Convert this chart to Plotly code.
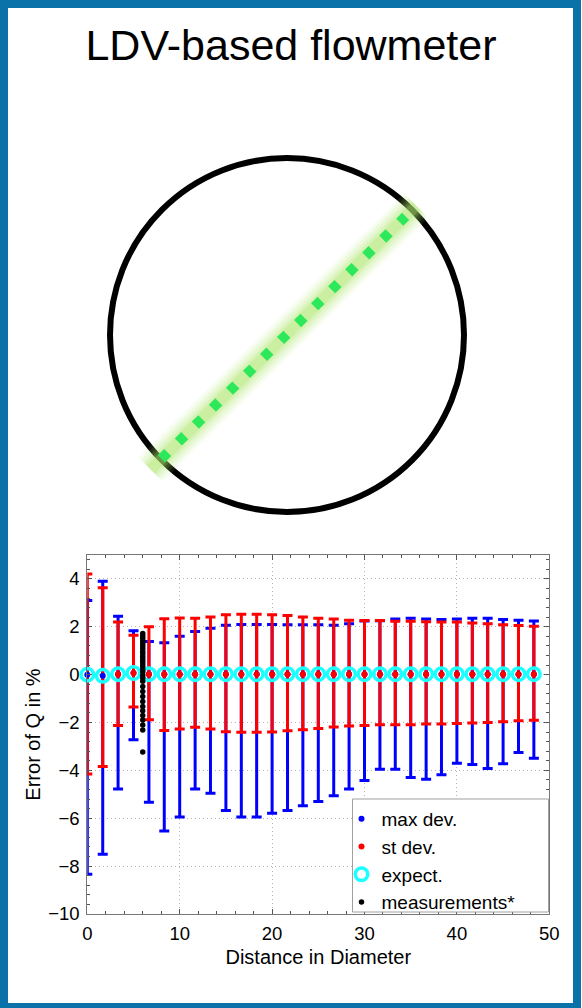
import plotly.graph_objects as go

# ---------------- data ----------------
distance = [0.0, 1.67, 3.33, 5.0, 6.67, 8.33, 10.0, 11.67, 13.33, 15.0,
            16.67, 18.33, 20.0, 21.67, 23.33, 25.0, 26.67, 28.33, 30.0, 31.67,
            33.33, 35.0, 36.67, 38.33, 40.0, 41.67, 43.33, 45.0, 46.67, 48.33]

expected = [0.0, -0.05, 0.02, 0.07, 0.02, 0.02, 0.02, 0.02, 0.02, 0.02,
            0.02, 0.02, 0.02, 0.02, 0.02, 0.02, 0.02, 0.02, 0.02, 0.02,
            0.02, 0.02, 0.02, 0.02, 0.02, 0.02, 0.02, 0.02, 0.02, 0.02]

max_dev_upper = [3.10, 3.90, 2.44, 1.84, 1.39, 1.33, 1.60, 1.80, 1.94, 2.06,
                 2.10, 2.10, 2.10, 2.09, 2.09, 2.09, 2.06, 2.13, 2.24, 2.25,
                 2.33, 2.36, 2.33, 2.30, 2.33, 2.36, 2.36, 2.30, 2.27, 2.24]
max_dev_lower = [-8.34, -7.50, -4.78, -2.72, -5.33, -6.53, -5.95, -4.78, -4.95, -5.68,
                 -5.95, -5.95, -5.79, -5.68, -5.48, -5.30, -5.06, -4.78, -4.42, -3.95,
                 -3.95, -4.30, -4.37, -4.18, -3.70, -3.75, -3.92, -3.72, -3.25, -3.49]

st_dev_upper = [4.21, 3.63, 2.20, 1.65, 2.00, 2.34, 2.37, 2.36, 2.41, 2.50,
                2.52, 2.52, 2.50, 2.47, 2.41, 2.36, 2.33, 2.27, 2.26, 2.26,
                2.23, 2.23, 2.21, 2.20, 2.20, 2.16, 2.13, 2.09, 2.05, 2.02]
st_dev_lower = [-4.15, -3.84, -2.12, -1.35, -1.88, -2.33, -2.27, -2.20, -2.27, -2.38,
                -2.41, -2.41, -2.40, -2.34, -2.30, -2.25, -2.19, -2.15, -2.12, -2.09,
                -2.09, -2.09, -2.06, -2.06, -2.04, -2.02, -2.00, -1.97, -1.93, -1.90]
st_dev_center_first = 2   # red centre dots start at the third station

meas_distance = 6.0
meas_error = [1.72, 1.62, 1.52, 1.41, 1.30, 1.20, 1.09, 0.98, 0.88, 0.77,
              0.66, 0.56, 0.45, 0.34, 0.22, 0.11, -0.02, -0.14, -0.28, -0.49,
              -0.70, -0.91, -1.12, -1.33, -1.51, -1.71, -1.89, -2.10, -2.31, -3.23]

x_ticks = [0, 10, 20, 30, 40, 50]
y_ticks = [-10, -8, -6, -4, -2, 0, 2, 4]

# diagram (pipe cross-section in units of pipe radius)
pipe_radius = 1.0
beam_x = [-0.71, 0.67]
beam_y = [-0.70, 0.67]
glow_x = [-0.77, 0.73]
glow_y = [-0.76, 0.73]

# ---------------- figure ----------------
W, H = 582, 1008
FONT = "Liberation Sans, Arial, sans-serif"
BLUE = "#0000ff"
RED = "#ff0000"

n = len(distance)
blue_plus = [max_dev_upper[i] - expected[i] for i in range(n)]
blue_minus = [expected[i] - max_dev_lower[i] for i in range(n)]
red_plus = [st_dev_upper[i] - expected[i] for i in range(n)]
red_minus = [expected[i] - st_dev_lower[i] for i in range(n)]

fig = go.Figure()

# error bars
fig.add_trace(go.Scatter(
    x=distance, y=expected, mode="markers", showlegend=False, hoverinfo="skip",
    marker=dict(size=1, opacity=0),
    error_y=dict(type="data", symmetric=False, array=blue_plus, arrayminus=blue_minus,
                 color=BLUE, thickness=3, width=5)))
fig.add_trace(go.Scatter(
    x=distance, y=expected, mode="markers", showlegend=False, hoverinfo="skip",
    marker=dict(size=1, opacity=0),
    error_y=dict(type="data", symmetric=False, array=red_plus, arrayminus=red_minus,
                 color=RED, thickness=3, width=5)))

# centre dots
fig.add_trace(go.Scatter(
    x=distance, y=expected, mode="markers", name="max dev.", cliponaxis=False,
    marker=dict(size=6, color=BLUE)))
fig.add_trace(go.Scatter(
    x=distance[st_dev_center_first:], y=expected[st_dev_center_first:],
    mode="markers", name="st dev.", cliponaxis=False,
    marker=dict(size=6, color=RED)))

# expected
fig.add_trace(go.Scatter(
    x=distance, y=expected, mode="markers", name="expect.", cliponaxis=False,
    marker=dict(symbol="circle-open", size=12.5, color="#1affff",
                line=dict(width=3.5, color="#1affff"))))

# measurements
fig.add_trace(go.Scatter(
    x=[meas_distance] * len(meas_error), y=meas_error, mode="markers",
    name="measurements*", cliponaxis=False,
    marker=dict(size=5.5, color="black")))

# diagram: laser beam with soft glow
for w, a in [(34, 0.10), (28, 0.12), (22, 0.16), (16, 0.22), (11, 0.3)]:
    fig.add_trace(go.Scatter(
        x=glow_x, y=glow_y, xaxis="x2", yaxis="y2", mode="lines",
        showlegend=False, hoverinfo="skip",
        line=dict(color=f"rgba(175,232,110,{a})", width=w)))
fig.add_trace(go.Scatter(
    x=beam_x, y=beam_y, xaxis="x2", yaxis="y2", mode="lines",
    showlegend=False, hoverinfo="skip",
    line=dict(color="#2de85a", width=10, dash="9px,15px")))

# pixel geometry
px_l, px_r, px_t, px_b = 87.3, 549.3, 555.0, 914.0
cx, cy, rpx = 287.0, 335.0, 177.0
leg_l, leg_r, leg_t, leg_b = 352.5, 548.5, 799.0, 912.0

axis_common = dict(
    showline=True, linecolor="#777777", linewidth=1, mirror="ticks",
    ticks="inside", ticklen=5, tickwidth=1, tickcolor="#555555",
    showgrid=True, gridcolor="#b4b4b4", gridwidth=1, griddash="1px,3px",
    zeroline=False, automargin=False,
    tickfont=dict(family=FONT, size=18.5, color="black"),
)

fig.update_layout(
    width=W, height=H,
    margin=dict(l=0, r=0, t=0, b=0),
    paper_bgcolor="white", plot_bgcolor="rgba(0,0,0,0)",
    template="none",
    font=dict(family=FONT, color="black"),
    title=dict(text="LDV-based flowmeter", x=0.5, xanchor="center",
               y=1 - 45 / H, yanchor="middle",
               font=dict(family=FONT, size=43, color="black")),
    xaxis=dict(domain=[px_l / W, px_r / W], range=[0, 50], tickvals=x_ticks,
               minor=dict(dtick=2, ticks="inside", ticklen=3, tickcolor="#555555", showgrid=False),
               ticklabelstandoff=3,
               title=dict(text="Distance in Diameter", standoff=6,
                          font=dict(family=FONT, size=20, color="black")),
               **axis_common),
    yaxis=dict(domain=[1 - px_b / H, 1 - px_t / H], range=[-10, 5], tickvals=y_ticks,
               minor=dict(dtick=0.4, ticks="inside", ticklen=3, tickcolor="#555555", showgrid=False),
               ticklabelstandoff=3,
               title=dict(text="Error of Q in %", standoff=2,
                          font=dict(family=FONT, size=20, color="black")),
               **axis_common),
    xaxis2=dict(domain=[0, 1], range=[-cx / rpx, (W - cx) / rpx], visible=False,
                anchor="y2", fixedrange=True),
    yaxis2=dict(domain=[0, 1], range=[-(H - cy) / rpx, cy / rpx], visible=False,
                anchor="x2", fixedrange=True),
    legend=dict(x=(leg_l - 11) / W, y=1 - (leg_t + 1) / H, xanchor="left", yanchor="top",
                bgcolor="rgba(0,0,0,0)", borderwidth=0,
                font=dict(family=FONT, size=19, color="black"),
                itemsizing="trace", tracegroupgap=0),
    showlegend=True,
)

# pipe wall
fig.add_shape(type="circle", xref="x2", yref="y2",
              x0=-pipe_radius, y0=-pipe_radius, x1=pipe_radius, y1=pipe_radius,
              line=dict(color="black", width=6), layer="below")

# legend box
fig.add_shape(type="rect", xref="paper", yref="paper",
              x0=leg_l / W, x1=leg_r / W, y0=1 - leg_b / H, y1=1 - leg_t / H,
              line=dict(color="#a0a0a0", width=1), fillcolor="white", layer="above")

# blue frame
fig.add_shape(type="rect", xref="paper", yref="paper",
              x0=4 / W, x1=577 / W, y0=1 - 1007 / H, y1=1 - 4 / H,
              line=dict(color="#0b72a9", width=8), fillcolor="rgba(0,0,0,0)", layer="above")

fig.write_html("out.html")
